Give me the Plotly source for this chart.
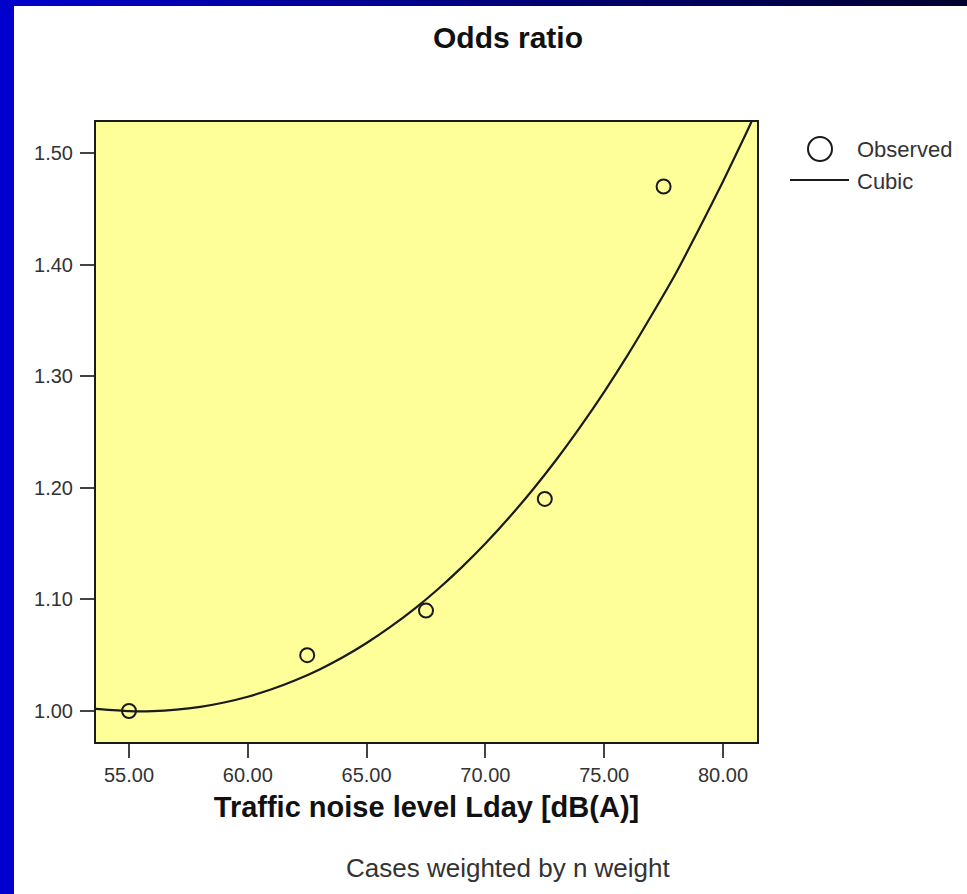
import plotly.graph_objects as go

# ---- data ----
obs_x = [55.0, 62.5, 67.5, 72.5, 77.5]
obs_y = [1.00, 1.05, 1.09, 1.19, 1.47]

# fitted cubic curve, read (and hand-smoothed) from the picture
cubic_x = [53.61, 55, 56, 57, 58, 59, 60, 61, 62, 63, 64, 65, 66, 67, 68, 69, 70,
           71, 72, 73, 74, 75, 76, 77, 78, 79, 80, 81, 81.43]
cubic_y = [1.0019, 0.9999, 0.9999, 1.0012, 1.0037, 1.0076, 1.0128, 1.0194, 1.0275, 1.0370,
           1.0481, 1.0609, 1.0753, 1.0913, 1.1091, 1.1287, 1.1501, 1.1734, 1.1985, 1.2256,
           1.2548, 1.2860, 1.3193, 1.3548, 1.3916, 1.4323, 1.4744, 1.5189, 1.5387]

x_ticks = [55, 60, 65, 70, 75, 80]
x_ticktext = ["55.00", "60.00", "65.00", "70.00", "75.00", "80.00"]
y_ticks = [1.0, 1.1, 1.2, 1.3, 1.4, 1.5]
y_ticktext = ["1.00", "1.10", "1.20", "1.30", "1.40", "1.50"]

title_text = "Odds ratio"
x_title = "Traffic noise level Lday [dB(A)]"
footnote = "Cases weighted by n weight"
legend_labels = ["Observed", "Cubic"]

# ---- layout geometry (pixels) ----
W, H = 967, 894
L, R, T, B = 96, 757, 122, 742
PW, PH = R - L, B - T


def px(x):
    return (x - L) / PW


def py(y):
    return (B - y) / PH


FONT = "Liberation Sans, Arial, sans-serif"
INK = "#1a1a1a"
TXT = "#333333"

fig = go.Figure()
fig.add_trace(go.Scatter(x=cubic_x, y=cubic_y, mode="lines",
                         line=dict(color=INK, width=2.2, shape="spline", smoothing=0.6),
                         name=legend_labels[1], showlegend=False, hoverinfo="skip"))
fig.add_trace(go.Scatter(x=obs_x, y=obs_y, mode="markers",
                         marker=dict(symbol="circle-open", size=14, color=INK, line=dict(width=2, color=INK)),
                         name=legend_labels[0], showlegend=False))

shapes = []
# blue slide border (left strip)
shapes.append(dict(type="rect", xref="paper", yref="paper", x0=px(0), x1=px(14), y0=py(H), y1=py(0),
                   fillcolor="#0000CC", line=dict(width=0), layer="above"))
# top gradient strip
n = 60
c0 = (0x00, 0x00, 0xCC)
c1 = (0x00, 0x00, 0x30)
for i in range(n):
    t = i / (n - 1)
    col = "rgb(%d,%d,%d)" % tuple(int(round(a + (b - a) * t)) for a, b in zip(c0, c1))
    xa = W * i / n
    xb = W * (i + 1) / n + 1
    shapes.append(dict(type="rect", xref="paper", yref="paper", x0=px(xa), x1=px(xb), y0=py(6), y1=py(0),
                       fillcolor=col, line=dict(width=0), layer="above"))
# legend symbols
shapes.append(dict(type="circle", xref="paper", yref="paper", x0=px(808), x1=px(832), y0=py(161), y1=py(137),
                   line=dict(color=INK, width=2), fillcolor="rgba(0,0,0,0)"))
shapes.append(dict(type="line", xref="paper", yref="paper", x0=px(790), x1=px(849), y0=py(180), y1=py(180),
                   line=dict(color=INK, width=2)))

annotations = [
    dict(text="<b>%s</b>" % title_text, xref="paper", yref="paper", x=px(508), y=py(38), xanchor="center",
         yanchor="middle", showarrow=False, font=dict(family=FONT, size=30, color="#111111")),
    dict(text=footnote, xref="paper", yref="paper", x=px(508), y=py(868), xanchor="center", yanchor="middle",
         showarrow=False, font=dict(family=FONT, size=26, color=TXT)),
    dict(text=legend_labels[0], xref="paper", yref="paper", x=px(855), y=py(149), xanchor="left", yanchor="middle",
         showarrow=False, font=dict(family=FONT, size=22, color=TXT)),
    dict(text=legend_labels[1], xref="paper", yref="paper", x=px(855), y=py(181), xanchor="left", yanchor="middle",
         showarrow=False, font=dict(family=FONT, size=22, color=TXT)),
]

fig.update_layout(
    width=W, height=H,
    margin=dict(l=L, r=W - R, t=T, b=H - B, pad=0),
    paper_bgcolor="white", plot_bgcolor="#FFFF99",
    showlegend=False,
    shapes=shapes, annotations=annotations,
    font=dict(family=FONT, color=TXT),
    xaxis=dict(range=[53.611, 81.431], tickvals=x_ticks, ticktext=x_ticktext, showgrid=False, zeroline=False,
               showline=True, mirror=True, linecolor=INK, linewidth=2,
               ticks="outside", ticklen=14, tickwidth=2, tickcolor="#444444",
               tickfont=dict(family=FONT, size=20, color=TXT),
               title=dict(text="<b>%s</b>" % x_title, font=dict(family=FONT, size=29, color="#111111"), standoff=12)),
    yaxis=dict(range=[0.9722, 1.5278], tickvals=y_ticks, ticktext=y_ticktext, showgrid=False, zeroline=False,
               showline=True, mirror=True, linecolor=INK, linewidth=2,
               ticks="outside", ticklen=14, tickwidth=2, tickcolor="#444444", ticklabelstandoff=3,
               tickfont=dict(family=FONT, size=20, color=TXT)),
)

fig.write_html("out.html")
